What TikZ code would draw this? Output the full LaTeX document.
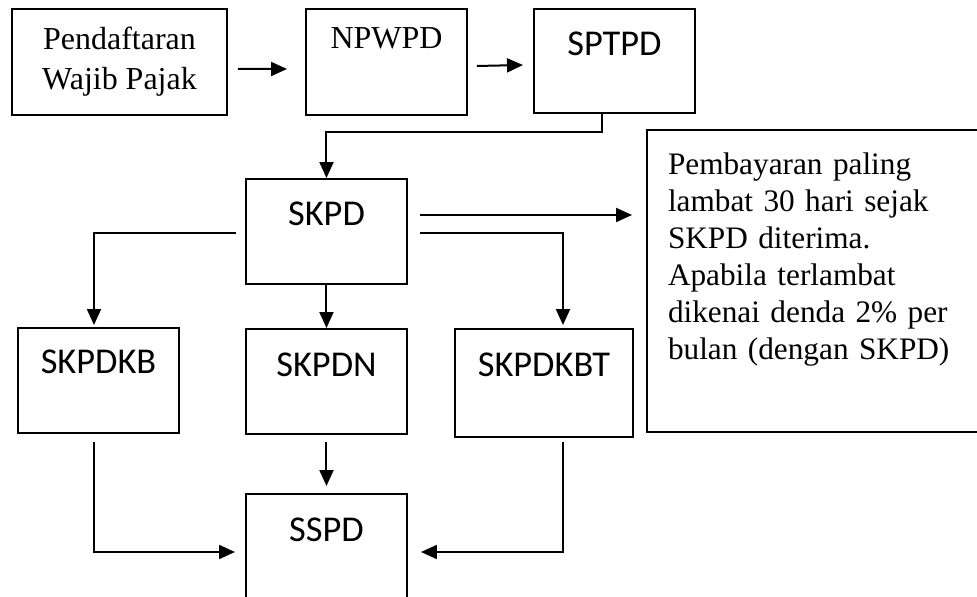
\documentclass[tikz,border=0pt]{standalone}
\usepackage{fontspec}
\setmainfont{Liberation Serif}
\newfontfamily\labelsans{Carlito}
\usepackage{tikz}
\usetikzlibrary{positioning,calc}
\usetikzlibrary{arrows.meta}
\tikzset{
	box/.style={draw=black,line width=0.04cm,inner sep=0pt,anchor=north west,
		minimum width=3.22cm},
	serifbox/.style={box,font=\fontsize{18.2}{22.8}\selectfont},
	sansbox/.style={box,font=\labelsans\fontsize{20.7}{24}\selectfont,
		text height=0.94cm,text depth=1.16cm},
	notebox/.style={draw=black,line width=0.04cm,anchor=north west,inner xsep=0.42cm,
		inner ysep=0pt,text width=6.36cm,align=left,text height=0.9cm,text depth=5.14cm,
		font=\fontsize{17.8}{21}\selectfont},
	arr/.style={draw=black,line width=0.04cm,-{Triangle[length=0.32cm,width=0.28cm]}},
}

\begin{document}
\begin{tikzpicture}[x=0.02cm,y=-0.02cm]
	\useasboundingbox (0,0) rectangle (977,596);
	\node[serifbox,minimum width=4.3cm,minimum height=2.12cm,align=center] (daftar) at (11,8)
		{Pendaftaran\\Wajib Pajak};
	\node[serifbox,text height=0.8cm,text depth=1.32cm] (npwpd) at (305,8) {NPWPD};
	\node[sansbox,text depth=1.14cm] (sptpd) at (533,8) {SPTPD};
	\node[sansbox] (skpd) at (245,178) {SKPD};
	\node[notebox] (catatan) at (646,129)
		{Pembayaran paling\\lambat 30 hari sejak\\SKPD diterima.\\Apabila terlambat\\
		dikenai denda 2\% per\\bulan (dengan SKPD)};
	\node[sansbox,text height=0.9cm,text depth=1.2cm] (skpdkb) at (17,327) {SKPDKB};
	\node[sansbox] (skpdn) at (245,328) {SKPDN};
	\node[sansbox,minimum width=3.56cm,text depth=1.22cm] (skpdkbt) at (454,328) {SKPDKBT};
	\node[sansbox,text depth=1.26cm] (sspd) at (245,493) {SSPD};

	\draw[arr] ([xshift=0.2cm,yshift=-0.14cm]daftar.east) -- ([xshift=-0.36cm,yshift=-0.14cm]npwpd.west);
	\draw[arr] ([xshift=0.18cm,yshift=-0.08cm]npwpd.east) -- ([xshift=-0.2cm,yshift=-0.08cm]sptpd.west);
	\draw[arr] ([xshift=-0.25cm]sptpd.south) |- ([yshift=0.92cm]skpd.north) -- (skpd.north);
	\draw[arr] ([xshift=0.24cm,yshift=0.33cm]skpd.east) coordinate (kanan)
		-- ([xshift=-0.28cm]catatan.west |- kanan);
	\draw[arr] ([xshift=0.24cm,yshift=-0.03cm]skpd.east) -| ([xshift=0.38cm,yshift=0.06cm]skpdkbt.north);
	\draw[arr] ([xshift=-0.18cm,yshift=-0.03cm]skpd.west) -| ([xshift=-0.09cm,yshift=0.04cm]skpdkb.north);
	\draw[arr] (skpd.south) -- (skpdn.north);
	\draw[arr,shorten <=0.14cm,shorten >=0.14cm] (skpdn.south) -- (sspd.north);
	\draw[arr] ([xshift=-0.09cm,yshift=-0.16cm]skpdkb.south) |- ([xshift=-0.2cm,yshift=-0.06cm]sspd.west);
	\draw[arr] ([xshift=0.38cm,yshift=-0.08cm]skpdkbt.south) |- ([xshift=0.26cm,yshift=-0.06cm]sspd.east);
\end{tikzpicture}
\end{document}
